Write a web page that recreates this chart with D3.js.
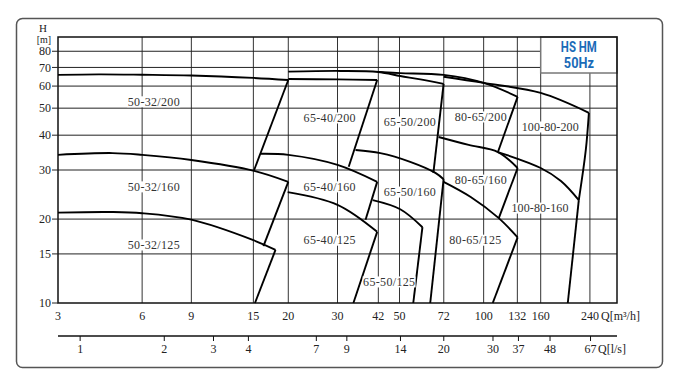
<!DOCTYPE html>
<html>
<head>
<meta charset="utf-8">
<script src="https://cdn.jsdelivr.net/npm/d3@7"></script>
<style>
body { margin: 0; background: #fff; }
svg text { font-family: "Liberation Serif", "DejaVu Serif", serif; fill: #222; }
</style>
</head>
<body>
<svg id="chart" width="680" height="377"></svg>
<script>
// tick values
const q_ticks = [3, 6, 9, 15, 20, 30, 42, 50, 72, 100, 132, 160, 240]
const ls_ticks = [1, 2, 3, 4, 7, 9, 14, 20, 30, 37, 48, 67]
const h_ticks = [10, 15, 20, 30, 40, 50, 60, 70, 80]

// curves as [Q m3/h, H m]
const top_50_32_200 = [[3, 65.8], [4.2, 66.1], [6, 65.9], [9, 65.5], [15, 64.2], [20, 63.1]]
const edge_50_32_200 = [[20, 63.1], [15.1, 30.0]]
const top_65_40_200 = [[20, 63.6], [30, 63.4], [41.6, 63.1]]
const edge_65_40_200 = [[41.6, 63.1], [32.9, 30.8]]
const top_65_50_200 = [[20, 67.6], [30.7, 68.0], [42, 67.4], [50.3, 65.2], [59.4, 63.4], [71.9, 61.1]]
const edge_65_50_200 = [[71.9, 61.1], [66.1, 29.3]]
const top_80_65_200 = [[42, 67.4], [50.3, 66.8], [71.9, 65.8], [100, 61.6], [132.3, 54.9]]
const edge_80_65_200 = [[132.3, 54.9], [112.5, 34.8]]
const top_100_80_200 = [[71.9, 64.8], [100, 61.6], [160, 56.7], [238, 48.1]]
const edge_100_80_200 = [[238, 48.1], [232, 35.4], [219, 23.4]]

const top_50_32_160 = [[3, 34.0], [4.7, 34.5], [6, 34.0], [9, 32.6], [15.1, 29.8], [20, 27.2]]
const edge_50_32_160 = [[20, 27.2], [16.3, 16.0]]
const top_65_40_160 = [[15.9, 34.3], [20, 34.0], [30, 31.3], [41.6, 27.2]]
const edge_65_40_160 = [[41.6, 27.2], [37.8, 19.9]]
const top_65_50_160 = [[34.8, 35.4], [42.7, 34.5], [54.6, 32.1], [67.2, 29.3], [71.9, 27.8]]
const edge_65_50_160 = [[71.9, 27.8], [64.4, 10]]
const top_80_65_160 = [[69, 39.4], [88.4, 36.9], [112.5, 34.8], [132.3, 30.5]]
const edge_80_65_160 = [[132.3, 30.5], [113.4, 20.2]]
const top_100_80_160 = [[112.5, 34.8], [160, 30.5], [189, 27.4], [219, 23.4]]
const edge_100_80_160 = [[219, 23.4], [200, 10]]

const top_50_32_125 = [[3, 21.1], [4.6, 21.2], [6, 21.0], [9, 19.9], [15, 16.8], [18, 15.5]]
const edge_50_32_125 = [[18, 15.5], [15.2, 10]]
const top_65_40_125 = [[19.9, 25.0], [30, 22.5], [41.6, 18.0]]
const edge_65_40_125 = [[41.6, 18.0], [34.2, 10]]
const top_65_50_125 = [[40.1, 23.4], [50.3, 21.7], [60.4, 18.7]]
const edge_65_50_125 = [[60.4, 18.7], [56, 10]]
const top_80_65_125 = [[71.9, 27.2], [89.9, 24.0], [113, 20.2], [132.3, 17.2]]
const edge_80_65_125 = [[132.3, 17.2], [107.8, 10]]

// model names and where they sit [Q, H]
const model_names = ['50-32/200', '50-32/160', '50-32/125', '65-40/200', '65-40/160', '65-40/125',
	'65-50/200', '65-50/160', '65-50/125', '80-65/200', '80-65/160', '80-65/125', '100-80-200', '100-80-160']
const model_pos = [[6.6, 52.7], [6.6, 26.1], [6.6, 16.15], [28.1, 46.1], [28.1, 26.1], [28.1, 16.8],
	[54.4, 44.6], [54.4, 25.0], [45.9, 11.9], [97.6, 46.5], [97.6, 27.6], [93.3, 16.8], [173, 42.8], [159, 21.9]]

const curves = [top_50_32_200, edge_50_32_200, top_65_40_200, edge_65_40_200, top_65_50_200, edge_65_50_200,
	top_80_65_200, edge_80_65_200, top_100_80_200, edge_100_80_200,
	top_50_32_160, edge_50_32_160, top_65_40_160, edge_65_40_160, top_65_50_160, edge_65_50_160,
	top_80_65_160, edge_80_65_160, top_100_80_160, edge_100_80_160,
	top_50_32_125, edge_50_32_125, top_65_40_125, edge_65_40_125, top_65_50_125, edge_65_50_125,
	top_80_65_125, edge_80_65_125]

const x = d3.scaleLog().domain([3, 300]).range([58, 617])
const y = d3.scaleLog().domain([10, 90]).range([303, 37])

const svg = d3.select('#chart')

svg.append('rect')
	.attr('x', 16.5).attr('y', 18.5)
	.attr('width', 646).attr('height', 349)
	.attr('rx', 6)
	.attr('fill', 'none').attr('stroke', '#555').attr('stroke-width', 1.5)

// grid
const grid = svg.append('g')
grid.selectAll('.vline')
	.data(q_ticks.slice(1))
	.enter().append('line')
	.attr('x1', d => x(d)).attr('x2', d => x(d))
	.attr('y1', y(90)).attr('y2', y(10))
	.attr('stroke', '#333').attr('stroke-width', 1)
grid.selectAll('.hline')
	.data(h_ticks.slice(1))
	.enter().append('line')
	.attr('x1', x(3)).attr('x2', x(300))
	.attr('y1', d => y(d)).attr('y2', d => y(d))
	.attr('stroke', '#222').attr('stroke-width', 1)

// legend box
svg.append('rect')
	.attr('x', x(160)).attr('y', y(90))
	.attr('width', x(300) - x(160)).attr('height', 36)
	.attr('fill', '#fff').attr('stroke', '#777').attr('stroke-width', 1.5)
svg.append('text')
	.text('HS HM')
	.attr('x', (x(160) + x(300)) / 2).attr('y', 52)
	.attr('text-anchor', 'middle')
	.attr('textLength', 36).attr('lengthAdjust', 'spacingAndGlyphs')
	.style('font-family', 'Roboto, "Open Sans", sans-serif')
	.style('font-weight', 'bold').style('font-size', '14px').style('fill', '#1a6bb8')
svg.append('text')
	.text('50Hz')
	.attr('x', (x(160) + x(300)) / 2).attr('y', 68)
	.attr('text-anchor', 'middle')
	.attr('textLength', 30).attr('lengthAdjust', 'spacingAndGlyphs')
	.style('font-family', 'Roboto, "Open Sans", sans-serif')
	.style('font-weight', 'bold').style('font-size', '14px').style('fill', '#1a6bb8')

// frame
svg.append('rect')
	.attr('x', x(3)).attr('y', y(90))
	.attr('width', x(300) - x(3)).attr('height', y(10) - y(90))
	.attr('fill', 'none').attr('stroke', '#111').attr('stroke-width', 1.5)

// pump curves
const line = d3.line()
	.x(d => x(d[0])).y(d => y(d[1]))
	.curve(d3.curveCatmullRom.alpha(0.5))
svg.append('g').selectAll('path')
	.data(curves)
	.enter().append('path')
	.attr('d', line)
	.attr('fill', 'none').attr('stroke', '#000').attr('stroke-width', 1.9)

// model labels with white backing
const labels = svg.append('g').selectAll('g')
	.data(model_names)
	.enter().append('g')
	.attr('transform', (d, i) => 'translate(' + [x(model_pos[i][0]), y(model_pos[i][1])] + ')')
labels.append('rect')
	.attr('x', d => d.length > 9 ? -29 : -26.5).attr('y', -5.5)
	.attr('width', d => d.length > 9 ? 58 : 53).attr('height', 11)
	.attr('fill', '#fff')
labels.append('text')
	.text(d => d)
	.attr('text-anchor', 'middle')
	.attr('dy', '0.35em')
	.attr('textLength', d => d.length > 9 ? 57 : 52).attr('lengthAdjust', 'spacing')
	.style('font-size', '12px').style('fill', '#333')

// y axis
const y_axis = svg.append('g')
y_axis.selectAll('line')
	.data(h_ticks)
	.enter().append('line')
	.attr('x1', x(3) - 6).attr('x2', x(3))
	.attr('y1', d => y(d)).attr('y2', d => y(d))
	.attr('stroke', '#222')
y_axis.selectAll('text')
	.data(h_ticks)
	.enter().append('text')
	.text(d => d)
	.attr('x', x(3) - 7).attr('y', d => y(d))
	.attr('dy', '0.35em')
	.attr('text-anchor', 'end')
	.style('font-size', '12px')
svg.append('text').text('H').attr('x', 43).attr('y', 32)
	.attr('text-anchor', 'middle').style('font-size', '11px')
svg.append('text').text('[m]').attr('x', 44).attr('y', 43)
	.attr('text-anchor', 'middle').style('font-size', '10px')

// Q m3/h labels
svg.append('g').selectAll('text')
	.data(q_ticks)
	.enter().append('text')
	.text(d => d)
	.attr('x', d => x(d)).attr('y', 316)
	.attr('dy', '0.35em')
	.attr('text-anchor', 'middle')
	.style('font-size', '12px')
svg.append('text').text('Q[m³/h]')
	.attr('x', 601).attr('y', 316).attr('dy', '0.35em')
	.style('font-size', '12px')

// Q l/s axis, 1 l/s = 3.6 m3/h
const ls = d3.scaleLog().domain([3 / 3.6, 300 / 3.6]).range(x.range())
svg.append('line')
	.attr('x1', x(3)).attr('x2', x(300))
	.attr('y1', 336).attr('y2', 336)
	.attr('stroke', '#111').attr('stroke-width', 1.5)
const ls_axis = svg.append('g')
ls_axis.selectAll('line')
	.data(ls_ticks)
	.enter().append('line')
	.attr('x1', d => ls(d)).attr('x2', d => ls(d))
	.attr('y1', 336).attr('y2', 341)
	.attr('stroke', '#111')
ls_axis.selectAll('text')
	.data(ls_ticks)
	.enter().append('text')
	.text(d => d)
	.attr('x', d => ls(d)).attr('y', 349)
	.attr('dy', '0.35em')
	.attr('text-anchor', 'middle')
	.style('font-size', '12px')
svg.append('text').text('Q[l/s]')
	.attr('x', 598).attr('y', 349).attr('dy', '0.35em')
	.style('font-size', '12px')
</script>
</body>
</html>
